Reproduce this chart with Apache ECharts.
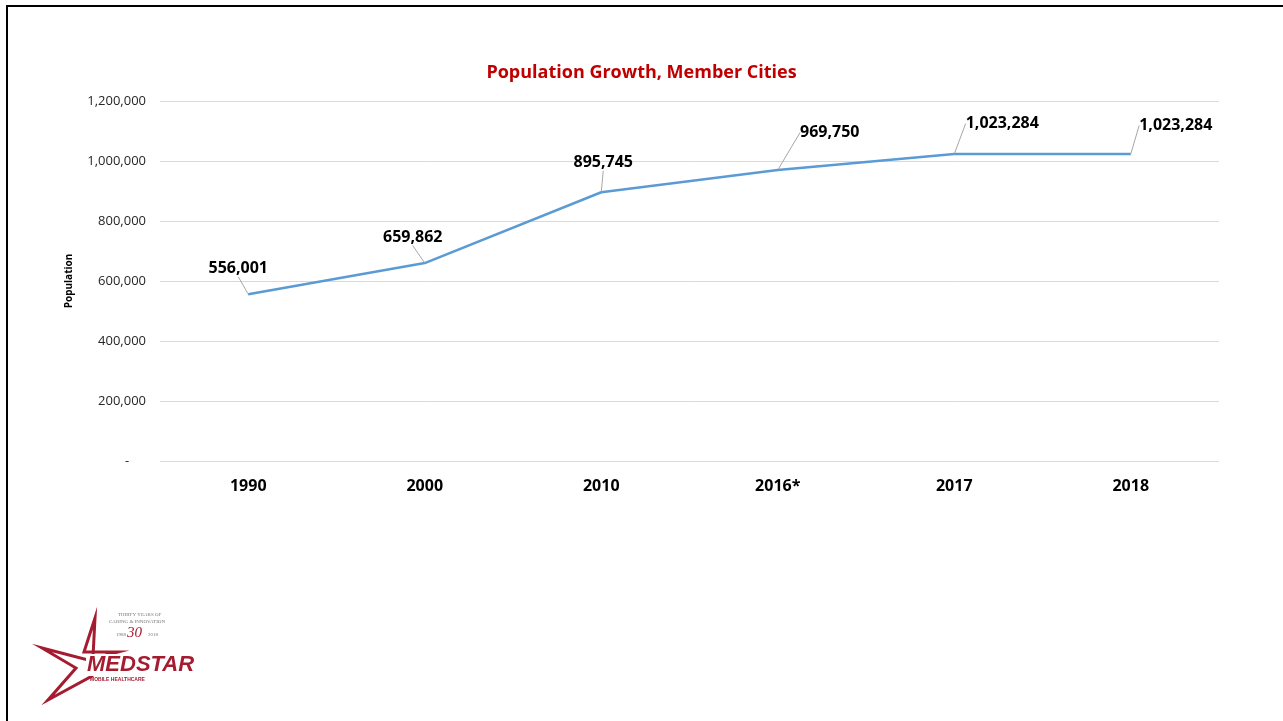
<!DOCTYPE html>
<html>
<head>
<meta charset="utf-8">
<script src="https://cdn.jsdelivr.net/npm/echarts@6/dist/echarts.min.js"></script>
<style>
html,body{margin:0;padding:0;background:#fff;}
#frame{position:absolute;left:6px;top:5px;width:1277px;height:716px;border-top:2px solid #000;border-left:2px solid #000;box-sizing:border-box;}
#chart{position:absolute;left:0;top:0;width:1283px;height:721px;}
</style>
</head>
<body>
<div id="frame"></div>
<div id="chart"></div>
<script>
const categories = ['1990', '2000', '2010', '2016*', '2017', '2018'];
const population = [556001, 659862, 895745, 969750, 1023284, 1023284];
const yTicks = { min: 0, max: 1200000, interval: 200000 };

// label offsets (styling only)
const labelOffsets = [[-10,-12],[-12,-12],[2,-16],[52,-24],[48,-17],[45,-15]];

const chart = echarts.init(document.getElementById('chart'));
const font = '"Open Sans", "Liberation Sans", sans-serif';

chart.setOption({
  animation: false,
  backgroundColor: 'transparent',
  title: {
    text: 'Population Growth, Member Cities',
    left: 'center',
    top: 59,
    textStyle: { color: '#C00000', fontSize: 18, fontWeight: 'bold', fontFamily: font }
  },
  grid: { left: 160, right: 64, top: 101, bottom: 260, containLabel: false },
  xAxis: {
    type: 'category',
    data: categories,
    boundaryGap: true,
    axisLine: { show: false },
    axisTick: { show: false },
    axisLabel: { color: '#000', fontSize: 16, fontWeight: 'bold', fontFamily: font, margin: 17 }
  },
  yAxis: {
    type: 'value',
    min: yTicks.min,
    max: yTicks.max,
    interval: yTicks.interval,
    name: 'Population',
    nameLocation: 'middle',
    nameGap: 86,
    nameTextStyle: { color: '#000', fontSize: 10, fontWeight: 'bold', fontFamily: font },
    axisLine: { show: false },
    axisTick: { show: false },
    splitLine: { lineStyle: { color: '#d9d9d9', width: 1 } },
    axisLabel: {
      color: '#262626', fontSize: 13, fontFamily: font, margin: 14,
      formatter: v => v === 0 ? '-     ' : v.toLocaleString('en-US')
    }
  },
  series: [{
    type: 'line',
    data: population,
    showSymbol: true,
    symbol: 'circle',
    symbolSize: 1,
    itemStyle: { color: '#5B9BD5' },
    lineStyle: { color: '#5B9BD5', width: 2.5 },
    label: {
      show: true,
      position: 'top',
      color: '#000',
      fontSize: 16,
      fontWeight: 'bold',
      fontFamily: font,
      formatter: p => p.value.toLocaleString('en-US')
    },
    labelLine: { show: true, lineStyle: { color: '#a6a6a6', width: 1 } },
    labelLayout: p => ({ dx: labelOffsets[p.dataIndex][0], dy: labelOffsets[p.dataIndex][1] })
  }],
  graphic: [
    { type: 'polygon',
      shape: { points: [[95,618],[84,652],[118,652],[88,660],[42,648],[76,668],[48,700],[92,676]] },
      style: { fill: '#fff', stroke: '#A51C30', lineWidth: 3, lineJoin: 'miter' } },
    { type: 'rect', shape: { x: 86, y: 654, width: 110, height: 22 }, style: { fill: '#fff' } },
    { type: 'text', left: 87, top: 654,
      style: { text: 'MEDSTAR', fill: '#A51C30', font: 'italic bold 22px "Liberation Sans", sans-serif' } },
    { type: 'text', left: 90, top: 677,
      style: { text: 'MOBILE HEALTHCARE', fill: '#A51C30', font: 'bold 5px "Liberation Sans", sans-serif', textLetterSpacing: 2 } },
    { type: 'text', left: 118, top: 612,
      style: { text: 'THIRTY YEARS OF', fill: '#777', font: '5px "Liberation Serif", serif' } },
    { type: 'text', left: 109, top: 619,
      style: { text: 'CARING & INNOVATION', fill: '#777', font: '5px "Liberation Serif", serif' } },
    { type: 'text', left: 116, top: 632,
      style: { text: '1988', fill: '#777', font: '5px "Liberation Serif", serif' } },
    { type: 'text', left: 127, top: 626,
      style: { text: '30', fill: '#A51C30', font: 'italic 15px "Liberation Serif", serif' } },
    { type: 'text', left: 148, top: 632,
      style: { text: '2018', fill: '#777', font: '5px "Liberation Serif", serif' } }
  ]
});
</script>
</body>
</html>
